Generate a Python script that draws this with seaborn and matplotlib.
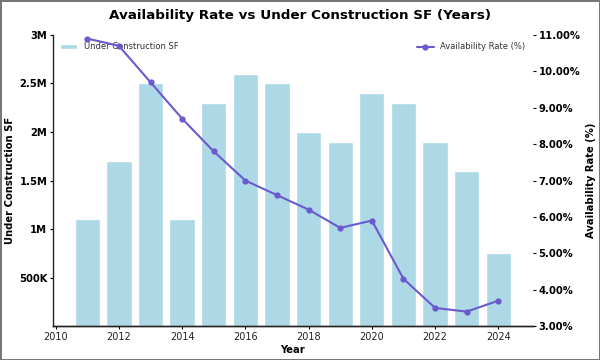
import matplotlib
matplotlib.use("Agg")
import matplotlib.pyplot as plt
import matplotlib.ticker as mticker
import seaborn as sns
import pandas as pd

years = [2011, 2012, 2013, 2014, 2015, 2016, 2017, 2018, 2019, 2020, 2021, 2022, 2023, 2024]
under_construction = [1.1e6, 1.7e6, 2.5e6, 1.1e6, 2.3e6, 2.6e6, 2.5e6, 2.0e6, 1.9e6, 2.4e6, 2.3e6, 1.9e6, 1.6e6, 0.75e6]
availability = [10.9, 10.7, 9.7, 8.7, 7.8, 7.0, 6.6, 6.2, 5.7, 5.9, 4.3, 3.5, 3.4, 3.7]

df = pd.DataFrame({"Year": years, "UC": under_construction, "Avail": availability})

sns.set_style("white")
plt.rcParams['font.family'] = ['DejaVu Sans']
plt.rcParams.update({"text.color": "black", "axes.labelcolor": "black",
                     "xtick.color": "black", "ytick.color": "black"})

fig = plt.figure(figsize=(6, 3.6), dpi=100)
fig.patch.set_edgecolor('#777777')
fig.patch.set_linewidth(2)
ax = fig.add_axes([0.088, 0.094, 0.800, 0.809])

sns.barplot(data=df, x="Year", y="UC", native_scale=True, color="#ADD8E6",
            saturation=1, width=0.8, ax=ax, label="Under Construction SF")
ax.set_ylim(0, 3e6)
ax.set_xlim(2009.91, 2025.09)
ax.set_xticks([2010, 2012, 2014, 2016, 2018, 2020, 2022, 2024])
ax.set_yticks([5e5, 1e6, 1.5e6, 2e6, 2.5e6, 3e6])
ax.set_yticklabels(["500K", "1M", "1.5M", "2M", "2.5M", "3M"], fontweight="bold", fontsize=7.2)
ax.tick_params(axis="x", labelsize=7.0, length=2.5, width=0.8, direction="out", bottom=True, pad=2,
               labelcolor="#222222")
ax.tick_params(axis="y", length=2.5, width=0.8, direction="out", left=True, pad=1.5)
ax.set_xlabel("Year", fontweight="bold", fontsize=7.2, labelpad=2)
ax.set_ylabel("Under Construction SF", fontweight="bold", fontsize=7.2, labelpad=3)
for s in ["top", "right"]:
    ax.spines[s].set_visible(False)
for s in ["left", "bottom"]:
    ax.spines[s].set_color("#222222")
    ax.spines[s].set_linewidth(1)

ax2 = ax.twinx()
sns.lineplot(data=df, x="Year", y="Avail", color="#6A5ACD", marker="o",
             markersize=4.5, markeredgewidth=0, linewidth=1.5, ax=ax2,
             label="Availability Rate (%)")
ax2.set_ylim(3, 11)
ax2.set_yticks([3, 4, 5, 6, 7, 8, 9, 10, 11])
ax2.yaxis.set_major_formatter(mticker.FuncFormatter(lambda v, p: f"{v:.2f}%"))
for lab in ax2.get_yticklabels():
    lab.set_fontweight("bold")
ax2.tick_params(axis="y", labelsize=7.2, length=2.5, width=0.8, right=True, pad=1.5)
ax2.set_ylabel("Availability Rate (%)", fontweight="bold", fontsize=7.2, labelpad=4)
for s in ["top", "right", "left"]:
    ax2.spines[s].set_visible(False)
ax2.spines["bottom"].set_color("#222222")
ax2.spines["bottom"].set_linewidth(1)
ax2.set_xlim(2009.91, 2025.09)

leg1 = ax.legend(loc="upper left", frameon=False, fontsize=6.0)
leg2 = ax2.legend(loc="upper right", frameon=False, fontsize=6.0)
for leg in (leg1, leg2):
    for t in leg.get_texts():
        t.set_color("#333333")

fig.text(0.5, 0.958, "Availability Rate vs Under Construction SF (Years)", fontweight="bold",
         fontsize=9.7, ha="center", va="center")

fig.savefig("out.png", dpi=100, edgecolor=fig.get_edgecolor())
